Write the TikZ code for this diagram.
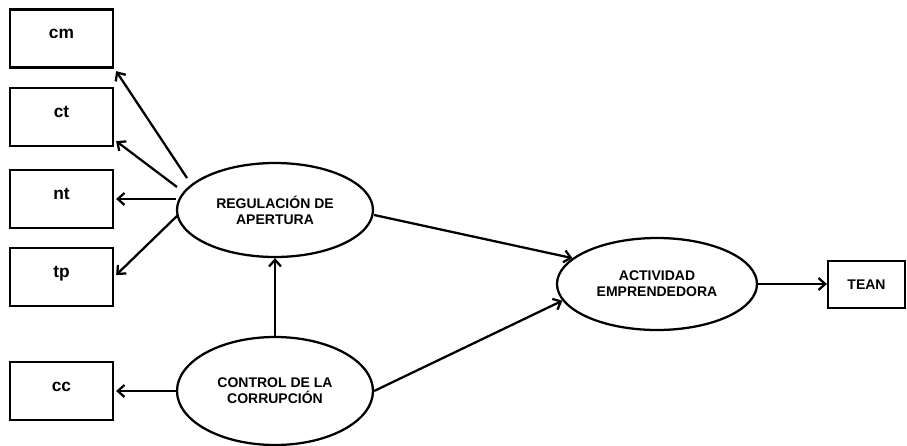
\documentclass[tikz,border=0pt]{standalone}
\usepackage{fontspec}
\setmainfont{Liberation Sans}
\usetikzlibrary{arrows.meta,shapes.geometric,calc}
\tikzset{
  ind/.style={draw,line width=1.7pt,rectangle,inner sep=0pt,minimum width=77.25pt,minimum height=43.5pt,
    font=\fontsize{13}{15}\selectfont\bfseries,text height=7pt,text depth=7pt},
  lat/.style={draw,line width=1.7pt,ellipse,inner sep=0pt,align=center,
    font=\fontsize{10.5}{12}\selectfont\bfseries},
  con/.style={line width=1.7pt,-{Straight Barb[length=5pt,width=9pt,line width=1.7pt]}}
}
\begin{document}
\begin{tikzpicture}[x=0.75pt,y=-0.75pt]
\useasboundingbox (0,0) rectangle (907,446);
\node[ind] (cm) at (61.5,38.5) {cm};
\node[ind] (ct) at (61.5,117) {ct};
\node[ind] (nt) at (61.5,199) {nt};
\node[ind] (tp) at (61.5,277) {tp};
\node[ind] (cc) at (61.5,391) {cc};
\node[lat,minimum width=147pt,minimum height=70.5pt] (REG) at (275,210) {REGULACIÓN DE\\APERTURA};
\node[lat,minimum width=147pt,minimum height=81pt] (CC) at (275,391) {CONTROL DE LA\\CORRUPCIÓN};
\node[lat,minimum width=150pt,minimum height=69pt] (ACT) at (657,284) {ACTIVIDAD\\EMPRENDEDORA};
\node[ind,minimum width=57.75pt,minimum height=35.25pt,font=\fontsize{10.5}{12}\selectfont\bfseries,text height=,text depth=] (TEAN) at (866.5,284.5) {TEAN};
\draw[con] ($(REG.center)+(-88,-32)$) -- ($(cm.south east)+(2,2.5)$);
\draw[con] ($(REG.center)+(-98,-23)$) -- ($(ct.south east)+(2,-6)$);
\draw[con] (REG.west |- nt.east) -- ($(nt.east)+(2,0)$);
\draw[con] ($(REG.center)+(-97,5)$) -- ($(tp.east)+(2,-2)$);
\draw[con] (CC.west) -- ($(cc.east)+(2,0)$);
\draw[con] (CC.north) -- (REG.south);
\draw[con] ($(REG.east)+(0,5)$) -- (ACT.163);
\draw[con] (CC.east) -- (ACT.190);
\draw[con] (ACT.east) -- (ACT.east -| TEAN.west);
\end{tikzpicture}
\end{document}
